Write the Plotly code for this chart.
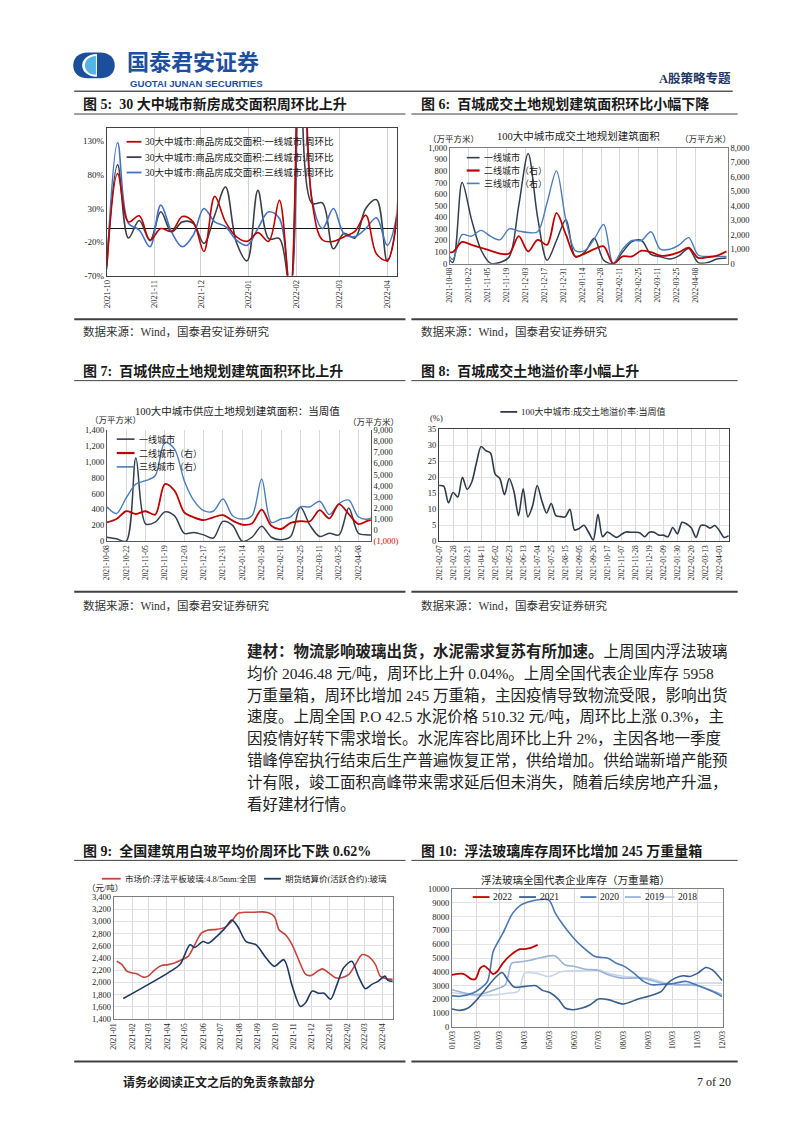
import plotly.graph_objects as go
import pandas as pd

W, H = 802, 1133

# ---------------- DATA ----------------
# Fig 5: 30 cities new-home transaction area, WoW (%)
c5_dates = pd.date_range("2021-10-01", periods=28, freq="7D").strftime("%Y-%m-%d").tolist()
c5_tier1 = [-56, 82, 10, 19, -17, 0, -4, 18, 10, -34, 48, 10, -12, -19, -6, -19, 42, -95, 420, 43, -17, -19, -12, -4, 20, -38, -47, 48]
c5_tier2 = [-50, 95, -14, 12, -18, 25, -5, 10, 8, -22, 20, 62, -20, -48, 57, -15, -15, -95, 420, 38, 38, -30, -7, -14, 30, 43, -49, 23]
c5_tier3 = [-60, 128, 8, -2, -27, 35, -5, -27, -10, 30, 10, 3, -17, -25, 0, 25, 15, -95, 420, 45, 0, 30, -8, -12, 0, 16, -25, 28]
c5_names = ["30大中城市:商品房成交面积:一线城市:周环比",
            "30大中城市:商品房成交面积:二线城市:周环比",
            "30大中城市:商品房成交面积:三线城市:周环比"]
c5_yticks = [-70, -20, 30, 80, 130]
c5_yticktext = ["-70%", "-20%", "30%", "80%", "130%"]

# Fig 6: 100 cities transacted land planned floor area
c6_dates = pd.date_range("2021-10-03", periods=31, freq="7D").strftime("%Y-%m-%d").tolist()
c6_tier1 = [150, 10, 700, 380, 120, 5, 10, 60, 500, 950, 400, 30, 200, 380, 60, 100, 220, 30, 0, 100, 190, 200, 80, 60, 40, 70, 130, 10, 10, 40, 50]
c6_tier2 = [850, 800, 1500, 1300, 1100, 900, 700, 700, 1900, 850, 1650, 1300, 3500, 2000, 500, 700, 1000, 1200, 0, 500, 500, 900, 800, 550, 600, 800, 1100, 400, 450, 550, 850]
c6_tier3 = [1500, 300, 2000, 1900, 2300, 1900, 1650, 2400, 2250, 2150, 2200, 4200, 6400, 3000, 900, 900, 1700, 2700, 0, 1000, 1600, 1600, 2200, 1000, 1000, 1300, 1800, 600, 500, 500, 500]

# Fig 7: 100 cities supplied land planned floor area
c7_dates = pd.date_range("2021-10-08", periods=29, freq="7D").strftime("%Y-%m-%d").tolist()
c7_tier1 = [50, 30, 0, 1050, 220, 240, 370, 320, 100, 110, 80, 40, 250, 200, 0, 50, 190, 50, 20, 60, 430, 200, 60, 100, 80, 420, 100, 80, 80]
c7_tier2 = [700, 1000, 1700, 1450, 1700, 1400, 4150, 3550, 1600, 1150, 900, 1150, 1350, 850, 500, 600, 1850, 400, 100, 650, 800, 800, 1800, 1050, 2350, 1450, 550, 850, 1000]
c7_tier3 = [2100, 1500, 2900, 4150, 4450, 4900, 7900, 7300, 4450, 2650, 1750, 1700, 2800, 1300, 1000, 1300, 4600, 700, 1000, 1200, 2100, 2100, 2600, 1400, 2400, 2700, 1200, 1000, 1500]
c7_right_ticktext = ["<span style='color:#E00000'>(1,000)</span>", "0", "1,000", "2,000", "3,000",
                     "4,000", "5,000", "6,000", "7,000", "8,000", "9,000"]

# Fig 8: land premium rate (%)
c8_dates = pd.date_range("2021-02-07", periods=63, freq="7D").strftime("%Y-%m-%d").tolist()
c8_premium = [17.4, 17.2, 12, 15.2, 13.8, 20, 16.2, 18.5, 24.5, 29.6,
              28.3, 27.6, 21, 19.6, 14.5, 19.6, 15.7, 8, 16.4, 7.6,
              11, 17.4, 12.6, 8.8, 11.8, 8, 7.7, 7.6, 10, 3.5,
              4, 5, 2.8, 0.4, 8.4, 1.4, 2.9, 2, 1.2, 2.1,
              2.9, 2.8, 2.8, 2.6, 1.4, 2.8, 2.8, 1.9, 1.9, 1.4,
              4.3, 2.3, 5.9, 5.4, 4.1, 1.2, 4.9, 4.9, 4.1, 4.9,
              3.3, 1.2, 1.7]

# Fig 9: glass prices
c9_spot_dates = ["2021-01-06", "2021-01-15", "2021-01-23", "2021-01-31", "2021-02-09", "2021-02-20", "2021-02-28",
                 "2021-03-12", "2021-03-23", "2021-04-03", "2021-04-14", "2021-04-26", "2021-05-07", "2021-05-18",
                 "2021-05-29", "2021-06-10", "2021-06-24", "2021-07-08", "2021-07-19", "2021-07-30", "2021-08-13",
                 "2021-08-27", "2021-09-10", "2021-09-21", "2021-09-30", "2021-10-08", "2021-10-19", "2021-10-30",
                 "2021-11-11", "2021-11-22", "2021-12-01", "2021-12-12", "2021-12-20", "2021-12-31", "2022-01-11",
                 "2022-01-22", "2022-02-03", "2022-02-14", "2022-02-25", "2022-03-08", "2022-03-20", "2022-03-28",
                 "2022-04-08", "2022-04-19"]
c9_spot = [2346, 2292, 2184, 2157, 2140, 2086, 2103, 2211, 2276, 2292, 2319, 2373, 2427, 2616, 2805, 2859, 2870,
           2903, 2995, 3130, 3151, 3151, 3157, 3140, 3076, 2859, 2778, 2616, 2346, 2130, 2114, 2184, 2222, 2157,
           2076, 2076, 2130, 2292, 2454, 2427, 2292, 2103, 2060, 2049]
c9_fut_dates = ["2021-01-17", "2021-04-03", "2021-04-23", "2021-05-10", "2021-05-18", "2021-06-01", "2021-06-10",
                "2021-06-24", "2021-07-08", "2021-07-20", "2021-07-30", "2021-08-13", "2021-08-30", "2021-09-16",
                "2021-09-30", "2021-10-16", "2021-10-30", "2021-11-13", "2021-11-22", "2021-12-03", "2021-12-14",
                "2021-12-23", "2022-01-03", "2022-01-14", "2022-01-25", "2022-02-08", "2022-02-19", "2022-03-03",
                "2022-03-14", "2022-03-25", "2022-04-05", "2022-04-10", "2022-04-19"]
c9_fut = [1735, 2157, 2292, 2616, 2573, 2670, 2643, 2751, 2886, 3022, 2913, 2670, 2616, 2400, 2265, 2373, 1941,
          1605, 1670, 1859, 1822, 1822, 1724, 1968, 2238, 2346, 2103, 1897, 1968, 2022, 2103, 2032, 2016]

# Fig 10: float glass inventory by year (month-day)
c10_md_2022 = ["01-03", "01-17", "01-27", "02-01", "02-07", "02-12", "02-17", "02-23", "02-28", "03-07", "03-17",
               "03-28", "04-03", "04-09", "04-19"]
c10_v_2022 = [3780, 3850, 3470, 3470, 4260, 4430, 4190, 3830, 4020, 4630, 5230, 5640, 5640, 5710, 5958]
c10_md_2021 = ["01-03", "01-13", "01-23", "02-03", "02-13", "02-27", "03-06", "03-13", "03-21", "04-03", "04-17",
               "04-25", "05-05", "05-15", "05-23", "06-01", "06-13", "06-23", "07-03", "07-15", "08-03", "08-21",
               "09-03", "09-19", "09-27", "10-06", "10-16", "10-24", "11-03", "11-13", "11-21", "12-03"]
c10_v_2021 = [1300, 1200, 1370, 1980, 2700, 3660, 3950, 3420, 2890, 2940, 2990, 2650, 2460, 1980, 1370, 1250,
              1370, 1610, 2020, 1980, 1660, 2020, 2220, 2580, 3180, 3540, 3710, 3660, 3900, 4310, 4140, 3370]
c10_md_2020 = ["01-03", "01-13", "01-29", "02-08", "02-16", "02-23", "02-28", "03-07", "03-19", "03-29", "04-08",
               "04-22", "05-03", "05-11", "05-19", "06-01", "06-13", "06-29", "07-15", "07-25", "08-04", "08-16",
               "08-28", "09-07", "09-21", "10-04", "10-20", "11-03", "11-20", "12-03"]
c10_v_2020 = [2270, 2220, 2460, 2820, 3300, 5470, 6070, 6800, 8240, 8840, 9080, 9250, 9200, 8240, 7520, 6550,
              5830, 5110, 4990, 4630, 4390, 3900, 3300, 3060, 3100, 3150, 3300, 3000, 2600, 2200]
c10_md_2019 = ["01-03", "02-03", "02-27", "03-10", "03-18", "03-26", "04-08", "04-24", "05-10", "05-23", "06-04",
               "06-17", "07-03", "07-15", "08-01", "08-26", "09-19", "10-05", "11-03", "12-03"]
c10_v_2019 = [2700, 2340, 2750, 3060, 4630, 4700, 4820, 5040, 5160, 4500, 4390, 4190, 4100, 3780, 3540, 3540,
              3180, 3060, 2990, 2340]
c10_md_2018 = ["01-03", "02-03", "02-27", "03-15", "03-26", "04-03", "04-17", "05-03", "05-19", "06-13", "07-03",
               "07-15", "08-05", "09-03", "10-05", "11-03", "12-03"]
c10_v_2018 = [2500, 2270, 2340, 2460, 2580, 3900, 3900, 3660, 4020, 4070, 4140, 3900, 3660, 3540, 3060, 3180, 3180]

paragraph = [
    "<b>建材：物流影响玻璃出货，水泥需求复苏有所加速。</b>上周国内浮法玻璃",
    "均价 2046.48 元/吨，周环比上升 0.04%。上周全国代表企业库存 5958",
    "万重量箱，周环比增加 245 万重箱，主因疫情导致物流受限，影响出货",
    "速度。上周全国 P.O 42.5 水泥价格 510.32 元/吨，周环比上涨 0.3%，主",
    "因疫情好转下需求增长。水泥库容比周环比上升 2%，主因各地一季度",
    "错峰停窑执行结束后生产普遍恢复正常，供给增加。供给端新增产能预",
    "计有限，竣工面积高峰带来需求延后但未消失，随着后续房地产升温，",
    "看好建材行情。",
]

# ---------------- HELPERS ----------------
SERIF = "Liberation Serif, Noto Sans CJK SC, serif"
CJK = "Noto Sans CJK SC, sans-serif"
TXT = "#1a1a1a"
RED = "#C00000"
DARK = "#333F50"
BLUE = "#4A7EBB"


def X(px):
    return px / W


def Y(py):
    return 1 - py / H


def dx(a, b):
    return [a / W, b / W]


def dy(top, bottom):
    return [1 - bottom / H, 1 - top / H]


shapes = []
annos = []


def hline(x0, x1, y, color="#404040", width=1.0):
    shapes.append(dict(type="line", xref="paper", yref="paper", x0=X(x0), x1=X(x1), y0=Y(y), y1=Y(y),
                       line=dict(color=color, width=width)))


def text(x, y, s, size=10, color=TXT, family=CJK, anchor="left", pad=1):
    annos.append(dict(xref="paper", yref="paper", x=X(x), y=Y(y), text=s, showarrow=False, borderpad=pad,
                      xanchor=anchor, yanchor="middle", font=dict(family=family, size=size, color=color)))


def legend_item(x0, x1, y, color, width, label, size=9):
    hline(x0, x1, y, color, width)
    text(x1 + 2, y, label, size=size, family=SERIF)


fig = go.Figure()


def line(xv, yv, color, width, xa, ya, smooth=0.9):
    fig.add_trace(go.Scatter(x=xv, y=yv, mode="lines", xaxis=xa, yaxis=ya,
                             line=dict(color=color, width=width, shape="spline", smoothing=smooth),
                             hoverinfo="skip", showlegend=False))


# ---------------- CHART 5 ----------------
line(c5_dates, c5_tier2, "#3B3F48", 1.6, "x", "y", 1.0)
line(c5_dates, c5_tier3, "#4472C4", 1.6, "x", "y", 1.0)
line(c5_dates, c5_tier1, RED, 1.6, "x", "y", 1.0)

# ---------------- CHART 6 ----------------
line(c6_dates, c6_tier3, BLUE, 1.4, "x2", "y3")
line(c6_dates, c6_tier2, RED, 1.8, "x2", "y3")
line(c6_dates, c6_tier1, DARK, 1.5, "x2", "y2")

# ---------------- CHART 7 ----------------
line(c7_dates, c7_tier3, BLUE, 1.4, "x3", "y5")
line(c7_dates, c7_tier2, RED, 1.8, "x3", "y5")
line(c7_dates, c7_tier1, DARK, 1.5, "x3", "y4")

# ---------------- CHART 8 ----------------
line(c8_dates, c8_premium, "#2F3B4C", 1.6, "x4", "y6", 0.8)

# ---------------- CHART 9 ----------------
line(c9_spot_dates, c9_spot, "#C8423F", 1.6, "x5", "y7", 0.8)
line(c9_fut_dates, c9_fut, "#1F3864", 1.6, "x5", "y7", 0.8)

# ---------------- CHART 10 ----------------
line(["2021-" + d for d in c10_md_2018], c10_v_2018, "#C9D6EA", 1.6, "x6", "y8", 0.8)
line(["2021-" + d for d in c10_md_2019], c10_v_2019, "#9BB3D9", 1.6, "x6", "y8", 0.8)
line(["2021-" + d for d in c10_md_2020], c10_v_2020, "#4A78B5", 1.6, "x6", "y8", 0.8)
line(["2021-" + d for d in c10_md_2021], c10_v_2021, "#3A5F8F", 1.6, "x6", "y8", 0.8)
line(["2021-" + d for d in c10_md_2022], c10_v_2022, RED, 1.8, "x6", "y8", 0.8)


def xax(domain, anchor, rng, tickvals, fmt, grid="#D9D9D9", line_c="#7F7F7F", mirror=True, size=8):
    return dict(domain=domain, anchor=anchor, type="date", range=rng, tickvals=tickvals, tickformat=fmt,
                tickangle=-90, showgrid=True, gridcolor=grid, gridwidth=0.8, showline=True, mirror=mirror,
                linecolor=line_c, linewidth=1, ticks="", tickfont=dict(family=SERIF, size=size, color="#222"),
                zeroline=False, fixedrange=True)


def yax(domain, anchor, rng, tickvals=None, dtick=None, fmt=",", grid=False, line_c="#7F7F7F", side="left",
        overlaying=None, ticktext=None, mirror=True, size=9):
    d = dict(anchor=anchor, range=rng, tickformat=fmt, showgrid=grid, gridcolor="#E3E3E3", gridwidth=0.8,
             showline=True, linecolor=line_c, linewidth=1, ticks="", side=side,
             tickfont=dict(family=SERIF, size=size, color="#222"), zeroline=False, fixedrange=True, mirror=mirror)
    if domain is not None:
        d["domain"] = domain
    if tickvals is not None:
        d["tickvals"] = tickvals
    if ticktext is not None:
        d["ticktext"] = ticktext
    if dtick is not None:
        d["dtick"] = dtick
        d["tick0"] = rng[0]
    if overlaying:
        d["overlaying"] = overlaying
    return d


c5_ticks = pd.date_range("2021-10-01", "2022-04-01", freq="MS").strftime("%Y-%m-%d").tolist()
c67_ticks = pd.date_range("2021-10-08", "2022-04-08", freq="14D").strftime("%Y-%m-%d").tolist()
c8_ticks = pd.date_range("2021-02-07", "2022-04-03", freq="21D").strftime("%Y-%m-%d").tolist()
c9_ticks = pd.date_range("2021-01-01", "2022-04-01", freq="MS").strftime("%Y-%m-%d").tolist()
c10_ticks = [d[:8] + "03" for d in pd.date_range("2021-01-01", "2021-12-01", freq="MS").strftime("%Y-%m-%d")]

layout = dict(
    width=W, height=H, margin=dict(l=0, r=0, t=0, b=0, pad=0), paper_bgcolor="white", plot_bgcolor="white",
    showlegend=False, font=dict(family=CJK, color=TXT),
    # chart 5
    xaxis=xax(dx(103, 396), "y", ["2021-10-01", "2022-04-07"], c5_ticks, "%Y-%m", grid="#D0D0D0",
              line_c="#404040", size=8.5),
    yaxis=dict(domain=dy(124, 273), anchor="x", range=[-70, 150], tickvals=c5_yticks, ticktext=c5_yticktext,
               showgrid=False, zeroline=True, zerolinecolor="#111111", zerolinewidth=1.4,
               showline=True, mirror=True, linecolor="#404040", ticks="",
               tickfont=dict(family=SERIF, size=9, color="#222"), fixedrange=True),
    # chart 6
    xaxis2=xax(dx(450, 731), "y2", ["2021-10-08", "2022-05-02"], c67_ticks, "%Y-%m-%d", size=7.5),
    yaxis2=yax(dy(144, 261), "x2", [0, 1000], dtick=100, size=8.5),
    yaxis3=yax(None, "x2", [0, 8000], dtick=1000, side="right", overlaying="y2", size=8.5),
    # chart 7
    xaxis3=xax(dx(103, 370), "y4", ["2021-10-08", "2022-04-17"], c67_ticks, "%Y-%m-%d", size=7.5,
               line_c="#595959", mirror=False),
    yaxis4=yax(dy(429, 541), "x3", [0, 1400], dtick=200, line_c="#595959", mirror=False, size=8.5),
    yaxis5=yax(None, "x3", [-1000, 9000], tickvals=list(range(-1000, 9001, 1000)), ticktext=c7_right_ticktext,
               side="right", overlaying="y4", line_c="#595959", mirror=False, size=8.5),
    # chart 8
    xaxis4=xax(dx(439, 732), "y6", ["2021-02-07", "2022-04-17"], c8_ticks, "%Y-%m-%d", size=7.5,
               line_c="#404040"),
    yaxis6=yax(dy(428, 541), "x4", [0, 35], dtick=5, fmt="d", grid=True, line_c="#404040", size=8.5),
    # chart 9
    xaxis5=xax(dx(110, 392), "y7", ["2021-01-01", "2022-04-18"], c9_ticks, "%Y-%m", size=8),
    yaxis7=yax(dy(900, 1023), "x5", [1400, 3400], dtick=200, grid=True, size=8.5),
    # chart 10
    xaxis6=xax(dx(452, 726), "y8", ["2021-01-03", "2021-12-04"], c10_ticks, "%m/%d", size=8),
    yaxis8=yax(dy(892, 1031), "x6", [0, 10000], dtick=1000, fmt="d", grid=True, size=8.5),
)


# ---------------- PAGE DECORATION ----------------
def pp(pts):
    s = ""
    for cmd, coords in pts:
        s += cmd + " " + " ".join(f"{X(a):.5f},{Y(b):.5f}" for a, b in coords) + " "
    return s + "Z"


shapes.append(dict(type="path", xref="paper", yref="paper", fillcolor="#1B4F9C", line=dict(width=0),
                   path=pp([("M", [(84, 48)]), ("L", [(96, 48)]), ("C", [(106, 48), (111, 54), (111, 61)]),
                            ("C", [(111, 68), (106, 74), (96, 74)]), ("L", [(84, 74)]),
                            ("C", [(74, 74), (69, 68), (69, 61)]), ("C", [(69, 54), (74, 48), (84, 48)])])))
shapes.append(dict(type="path", xref="paper", yref="paper", fillcolor="white", line=dict(width=0),
                   path=pp([("M", [(93, 49.5)]), ("C", [(73, 50), (73, 72), (93, 72.5)])])))
shapes.append(dict(type="path", xref="paper", yref="paper", fillcolor="#56B4E5", line=dict(width=0),
                   path=pp([("M", [(92, 51.5)]), ("C", [(77, 52), (77, 70), (92, 70.5)])])))

text(122, 55.5, "<b>国泰君安证券</b>", size=22, color="#1D4F9E", family=CJK, pad=0)
text(125, 79, "<b>GUOTAI JUNAN SECURITIES</b>", size=9.6, color="#1D4F9E", family="Liberation Sans, Arial", pad=0)
text(736, 74, "<b>A股策略专题</b>", size=12.5, color="#1F3864", family=SERIF, anchor="right")
hline(70, 736, 87, "#595959", 1.6)

# titles row 1
text(77, 100, "<b>图 5:  30 大中城市新房成交面积周环比上升</b>", size=14, family=SERIF)
text(419, 100, "<b>图 6:  百城成交土地规划建筑面积环比小幅下降</b>", size=14, family=SERIF)
hline(70, 405, 110, "#404040", 1.0)
hline(411, 741, 110, "#404040", 1.0)
hline(70, 405, 317, "#404040", 2.0)
hline(411, 741, 317, "#404040", 2.0)
text(77, 329, "数据来源：Wind，国泰君安证券研究", size=11.5, family=SERIF, color="#333")
text(419, 329, "数据来源：Wind，国泰君安证券研究", size=11.5, family=SERIF, color="#333")

# titles row 2
text(77, 369, "<b>图 7:  百城供应土地规划建筑面积环比上升</b>", size=14, family=SERIF)
text(419, 369, "<b>图 8:  百城成交土地溢价率小幅上升</b>", size=14, family=SERIF)
hline(70, 405, 379, "#404040", 1.0)
hline(411, 741, 379, "#404040", 1.0)
hline(70, 405, 592, "#404040", 2.0)
hline(411, 741, 592, "#404040", 2.0)
text(77, 606, "数据来源：Wind，国泰君安证券研究", size=11.5, family=SERIF, color="#333")
text(419, 606, "数据来源：Wind，国泰君安证券研究", size=11.5, family=SERIF, color="#333")

# paragraph
for i, ln in enumerate(paragraph):
    text(243, 652 + i * 22.1, ln, size=15.5, family=SERIF, color="#222")

# titles row 3
text(77, 854, "<b>图 9:  全国建筑用白玻平均价周环比下跌 0.62%</b>", size=14, family=SERIF)
text(419, 854, "<b>图 10:  浮法玻璃库存周环比增加 245 万重量箱</b>", size=14, family=SERIF)
hline(70, 405, 863, "#404040", 1.0)
hline(411, 741, 863, "#404040", 1.0)
hline(70, 405, 1066, "#404040", 2.0)
hline(411, 741, 1066, "#404040", 2.0)

# footer
text(117, 1087, "<b>请务必阅读正文之后的免责条款部分</b>", size=12, family=SERIF, color="#222")
text(736, 1087, "7 of 20", size=12, family=SERIF, color="#222", anchor="right")

# ---------------- IN-CHART LABELS / LEGENDS ----------------
legend_item(123, 138, 138, RED, 1.8, c5_names[0], size=9.5)
legend_item(123, 138, 153.5, "#3B3F48", 1.8, c5_names[1], size=9.5)
legend_item(123, 138, 169, "#4472C4", 1.8, c5_names[2], size=9.5)

text(580, 132, "100大中城市成交土地规划建筑面积", size=10.5, family=SERIF, anchor="center")
text(454, 135.5, "（万平方米）", size=8.5, family=SERIF, anchor="center")
text(708, 135.5, "（万平方米）", size=8.5, family=SERIF, anchor="center")
legend_item(467, 480, 154, DARK, 1.6, "一线城市")
legend_item(467, 480, 167, RED, 2.2, "二线城市（右）")
legend_item(467, 480, 180, BLUE, 1.6, "三线城市（右）")

text(235, 410, "100大中城市供应土地规划建筑面积：当周值", size=10.5, family=SERIF, anchor="center")
text(112, 418.5, "（万平方米）", size=8.5, family=SERIF, anchor="center")
text(373, 421, "（万平方米）", size=8.5, family=SERIF, anchor="center")
legend_item(113, 131, 438, DARK, 1.6, "一线城市")
legend_item(113, 131, 452, RED, 2.2, "二线城市（右）")
legend_item(113, 131, 466, BLUE, 1.6, "三线城市（右）")

legend_item(501, 518, 410.5, "#2F3B4C", 1.8, "100大中城市:成交土地溢价率:当周值")
text(436, 417, "(%)", size=8.5, family=SERIF, anchor="center")

legend_item(98, 117, 881.5, "#C8423F", 1.8, "市场价:浮法平板玻璃:4.8/5mm:全国", size=8.5)
legend_item(262, 279, 881.5, "#1F3864", 1.8, "期货结算价(活跃合约):玻璃", size=8.5)
text(101, 891, "（元/吨）", size=8.5, family=SERIF, anchor="center")

text(577, 882.5, "浮法玻璃全国代表企业库存（万重量箱）", size=10.5, family=SERIF, anchor="center")
legend_item(473, 490, 900, RED, 1.8, "2022", size=9.5)
legend_item(520, 537, 900, "#3A5F8F", 1.8, "2021", size=9.5)
legend_item(582, 598, 900, "#4A78B5", 1.8, "2020", size=9.5)
legend_item(627, 643, 900, "#9BB3D9", 1.8, "2019", size=9.5)
legend_item(660, 677, 900, "#C9D6EA", 1.8, "2018", size=9.5)

layout["shapes"] = shapes
layout["annotations"] = annos
fig.update_layout(**layout)

fig.write_html("out.html")
